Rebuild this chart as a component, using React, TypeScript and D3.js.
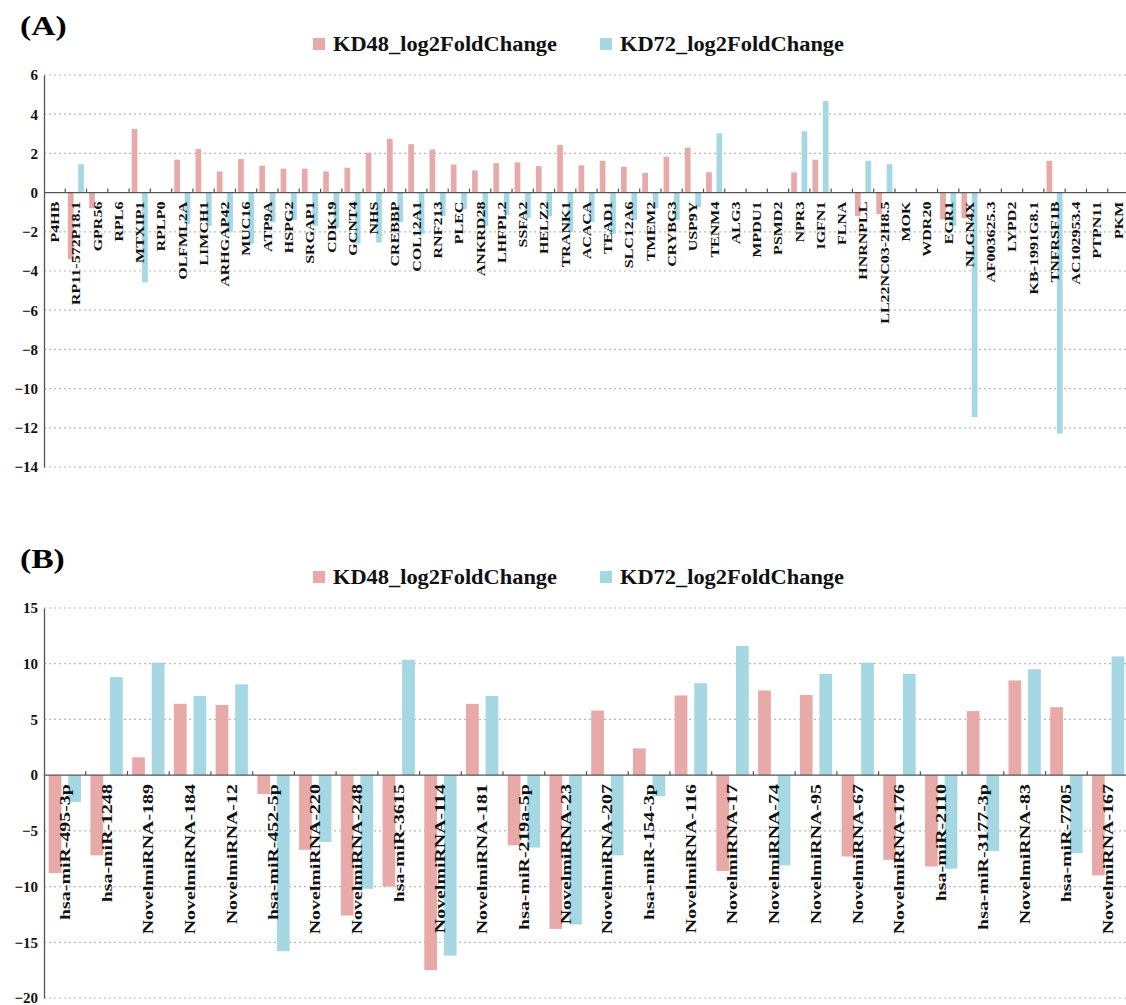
import React, { useEffect, useRef } from 'react';
import * as d3 from 'd3';

// --- Data ---
const seriesNames = ['KD48_log2FoldChange', 'KD72_log2FoldChange'];
const seriesColors = ['#E8A9A9', '#A6D8E3'];

const genesA = [
  'P4HB', 'RP11-572P18.1', 'GPR56', 'RPL6', 'MTXIP1', 'RPLP0', 'OLFML2A', 'LIMCH1', 'ARHGAP42', 'MUC16',
  'ATP9A', 'HSPG2', 'SRGAP1', 'CDK19', 'GCNT4', 'NHS', 'CREBBP', 'COL12A1', 'RNF213', 'PLEC',
  'ANKRD28', 'LHFPL2', 'SSFA2', 'HELZ2', 'TRANK1', 'ACACA', 'TEAD1', 'SLC12A6', 'TMEM2', 'CRYBG3',
  'USP9Y', 'TENM4', 'ALG3', 'MPDU1', 'PSMD2', 'NPR3', 'IGFN1', 'FLNA', 'HNRNPLL', 'LL22NC03-2H8.5',
  'MOK', 'WDR20', 'EGR1', 'NLGN4X', 'AF003625.3', 'LYPD2', 'KB-1991G8.1', 'TNFRSF1B', 'AC102953.4', 'PTPN11',
  'PKM'
];
const kd48A = [
  0, -3.4, -0.8, 0, 3.25, 0, 1.68, 2.22, 1.08, 1.71,
  1.37, 1.22, 1.22, 1.08, 1.27, 2.03, 2.75, 2.47, 2.2, 1.43,
  1.13, 1.5, 1.54, 1.35, 2.43, 1.39, 1.62, 1.32, 1.0, 1.83,
  2.3, 1.04, 0, 0, 0, 1.03, 1.68, 0, -1.2, -1.1,
  0, 0, -1.37, -1.3, 0, 0, 0, 1.62, 0, 0,
  0
];
const kd72A = [
  0, 1.45, 0, 0, -4.58, 0, -1.6, -1.7, -2.0, -2.6,
  -1.5, -1.4, -1.7, -1.8, -2.6, -2.55, -1.5, -2.1, -1.2, -0.85,
  -1.7, -1.15, -1.3, -1.2, -2.0, -1.5, -2.1, -1.4, -0.8, -1.4,
  -0.75, 3.03, 0, 0, 0, 3.13, 4.67, 0, 1.62, 1.45,
  0, 0, -1.7, -11.45, 0, 0, 0, -12.3, 0, 0,
  0
];
const ticksA = [6, 4, 2, 0, -2, -4, -6, -8, -10, -12, -14];

const mirnasB = [
  'hsa-miR-495-3p', 'hsa-miR-1248', 'NovelmiRNA-189', 'NovelmiRNA-184', 'NovelmiRNA-12', 'hsa-miR-452-5p',
  'NovelmiRNA-220', 'NovelmiRNA-248', 'hsa-miR-3615', 'NovelmiRNA-114', 'NovelmiRNA-181', 'hsa-miR-219a-5p',
  'NovelmiRNA-23', 'NovelmiRNA-207', 'hsa-miR-154-3p', 'NovelmiRNA-116', 'NovelmiRNA-17', 'NovelmiRNA-74',
  'NovelmiRNA-95', 'NovelmiRNA-67', 'NovelmiRNA-176', 'hsa-miR-2110', 'hsa-miR-3177-3p', 'NovelmiRNA-83',
  'hsa-miR-7705', 'NovelmiRNA-167'
];
const kd48B = [
  -8.8, -7.2, 1.6, 6.4, 6.3, -1.7,
  -6.7, -12.6, -10.0, -17.5, 6.4, -6.3,
  -13.8, 5.8, 2.4, 7.15, -8.6, 7.6,
  7.2, -7.3, -7.6, -8.2, 5.75, 8.5,
  6.1, -9.0
];
const kd72B = [
  -2.4, 8.8, 10.1, 7.1, 8.15, -15.8,
  -6.0, -10.2, 10.35, -16.2, 7.1, -6.5,
  -13.4, -7.2, -1.9, 8.25, 11.6, -8.1,
  9.1, 10.1, 9.1, -8.4, -6.8, 9.5,
  -7.0, 10.65
];
const ticksB = [15, 10, 5, 0, -5, -10, -15, -20];

// --- Drawing ---
const SERIF = 'Liberation Serif, Times New Roman, DejaVu Serif, serif';

const txt = (sel, size, weight = 'bold') =>
  sel.attr('font-family', SERIF).attr('font-weight', weight).attr('font-size', size);

const drawPanel = (svg, cfg) => {
  const { title, titleY, legendY, categories, values, ticks, top, bottom,
    labelSize, labelStretch, innerPad, outerPad } = cfg;
  const x0 = 44;
  const x1 = 1129;

  txt(svg.append('text').attr('transform', `translate(20,${titleY}) scale(1.2,1)`), 28)
    .attr('fill', '#000').text(title);

  // legend
  const legend = svg.selectAll(null).data(seriesNames).enter().append('g')
    .attr('transform', (d, i) => `translate(${313 + i * 287},${legendY})`);
  legend.append('rect').attr('x', 0).attr('y', -6).attr('width', 12).attr('height', 12)
    .attr('fill', (d, i) => seriesColors[i]);
  txt(legend.append('text').attr('x', 20).attr('y', 0).attr('dy', '0.35em'), 20)
    .attr('textLength', 224).attr('lengthAdjust', 'spacingAndGlyphs')
    .attr('fill', '#111').text(d => d);

  const y = d3.scaleLinear().domain([ticks[ticks.length - 1], ticks[0]]).range([bottom, top]);
  const x = d3.scaleBand().domain(categories).range([x0, x1]);
  const xi = d3.scaleBand().domain(['0', '1']).range([0, x.bandwidth()])
    .paddingInner(innerPad).paddingOuter(outerPad);

  // gridlines
  svg.append('g').selectAll('line').data(ticks.filter(t => t !== 0)).enter().append('line')
    .attr('x1', x0).attr('x2', 1126).attr('y1', d => y(d)).attr('y2', d => y(d))
    .attr('stroke', '#b8b8b8').attr('stroke-width', 1.2).attr('stroke-dasharray', '2,3');

  // y axis
  const yAxis = d3.axisLeft(y).tickValues(ticks).tickSize(0).tickPadding(6).tickFormat(d3.format('d'));
  const ya = svg.append('g').attr('transform', `translate(${x0},0)`).call(yAxis);
  ya.attr('font-family', null).attr('font-size', null);
  ya.select('.domain').attr('stroke', '#555').attr('stroke-width', 1.3);
  txt(ya.selectAll('text'), 15).attr('fill', '#111');

  // bars
  categories.forEach((c, ci) => {
    values.forEach((vals, si) => {
      const v = vals[ci];
      if (!v) return;
      svg.append('rect')
        .attr('x', x(c) + xi(String(si)))
        .attr('width', xi.bandwidth())
        .attr('y', y(Math.max(0, v)))
        .attr('height', Math.abs(y(v) - y(0)))
        .attr('fill', seriesColors[si]);
    });
  });

  // zero axis with boundary ticks
  svg.append('line').attr('x1', x0).attr('x2', 1126).attr('y1', y(0)).attr('y2', y(0))
    .attr('stroke', '#555').attr('stroke-width', 1.3);
  svg.append('g').selectAll('line').data(categories.slice(1)).enter().append('line')
    .attr('x1', d => x(d)).attr('x2', d => x(d)).attr('y1', y(0)).attr('y2', y(0) - 4)
    .attr('stroke', '#555').attr('stroke-width', 1.2);

  // category labels, rotated and stretched along their length, drawn over the bars
  txt(svg.append('g').selectAll('text').data(categories).enter().append('text')
    .attr('transform', d =>
      `translate(${x(d) + x.bandwidth() / 2},${y(0) + 9}) rotate(-90) scale(${labelStretch},1)`)
    .attr('text-anchor', 'end').attr('dy', '0.35em'), labelSize)
    .attr('fill', '#111').text(d => d);
};

const App = () => {
  const ref = useRef(null);

  useEffect(() => {
    const svg = d3.select(ref.current);
    svg.selectAll('*').remove();
    drawPanel(svg, {
      title: '(A)', titleY: 35, legendY: 44,
      categories: genesA, values: [kd48A, kd72A], ticks: ticksA,
      top: 75, bottom: 467, labelSize: 12.5, labelStretch: 1.28, innerPad: 0.45, outerPad: 0.25
    });
    drawPanel(svg, {
      title: '(B)', titleY: 568, legendY: 577,
      categories: mirnasB, values: [kd48B, kd72B], ticks: ticksB,
      top: 608, bottom: 998, labelSize: 14, labelStretch: 1.42, innerPad: 0.35, outerPad: 0.24
    });
  }, []);

  return (
    <svg ref={ref} width={1126} height={1005}
      style={{ position: 'absolute', left: 0, top: 0, background: '#fff' }} />
  );
};

export default App;
